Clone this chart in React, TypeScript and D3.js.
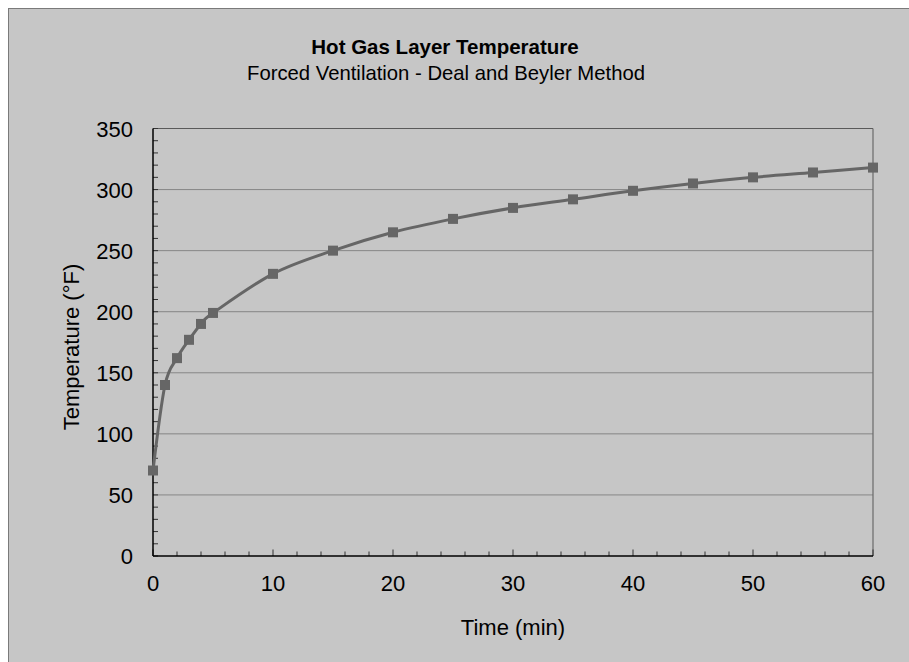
import React from "react";
import * as d3 from "d3";

const timeMin = [0, 1, 2, 3, 4, 5, 10, 15, 20, 25, 30, 35, 40, 45, 50, 55, 60];
const tempF = [70, 140, 162, 177, 190, 199, 231, 250, 265, 276, 285, 292, 299, 305, 310, 314, 318];
const xTicks = [0, 10, 20, 30, 40, 50, 60];
const yTicks = [0, 50, 100, 150, 200, 250, 300, 350];
const xMinor = d3.range(0, 61, 2);
const yMinor = d3.range(0, 351, 10);
const title = "Hot Gas Layer Temperature";
const subtitle = "Forced Ventilation - Deal and Beyler Method";
const xTitle = "Time (min)";
const yTitle = "Temperature (°F)";

export default function App() {
  const W = 909, H = 662;
  const L = 153, R = 873, T = 128.5, B = 556;
  const x = d3.scaleLinear().domain([0, 60]).range([L, R]);
  const y = d3.scaleLinear().domain([0, 350]).range([B, T]);
  const line = d3
    .line<number>()
    .x((_, i) => x(timeMin[i]))
    .y((d) => y(d))
    .curve(d3.curveCardinal.tension(0));
  const font = "'Liberation Sans', Arial, sans-serif";
  const c = "#666666";
  return (
    <svg width={W} height={H} style={{ position: "absolute", left: 0, top: 0 }} fontFamily={font}>
      <rect x={8.5} y={8.5} width={W + 10} height={H + 10} fill="#c6c6c6" stroke="#7a7a7a" strokeWidth={1} />
      <text x={445} y={54} textAnchor="middle" fontSize={20.5} fontWeight="bold" fill="#000">{title}</text>
      <text x={446} y={80} textAnchor="middle" fontSize={20.3} fill="#000">{subtitle}</text>
      {yTicks.filter((t) => t > 0 && t < 350).map((t) => (
        <line key={"g" + t} x1={L} x2={R} y1={y(t)} y2={y(t)} stroke="#868686" strokeWidth={1} />
      ))}
      <line x1={L} x2={R} y1={T} y2={T} stroke="#5a5a5a" strokeWidth={1.2} />
      <line x1={R} x2={R} y1={T} y2={B} stroke="#6a6a6a" strokeWidth={1.2} />
      {yMinor.map((t) => (
        <line key={"ym" + t} x1={L} x2={L + 5} y1={y(t)} y2={y(t)} stroke="#333" strokeWidth={1} />
      ))}
      {xMinor.map((t) => (
        <line key={"xm" + t} x1={x(t)} x2={x(t)} y1={B} y2={B - (t % 10 === 0 ? 6.5 : 4.5)} stroke="#333" strokeWidth={1} />
      ))}
      <line x1={L} x2={L} y1={T} y2={B} stroke="#000" strokeWidth={1.5} />
      <line x1={L} x2={R} y1={B} y2={B} stroke="#000" strokeWidth={1.5} />
      {yTicks.map((t) => (
        <text key={"yl" + t} x={133} y={y(t) + 8} textAnchor="end" fontSize={22} fill="#000">{t}</text>
      ))}
      {xTicks.map((t) => (
        <text key={"xl" + t} x={x(t)} y={591} textAnchor="middle" fontSize={22} fill="#000">{t}</text>
      ))}
      <text x={513} y={635} textAnchor="middle" fontSize={22} fill="#000">{xTitle}</text>
      <text transform={`translate(79,347) rotate(-90)`} textAnchor="middle" fontSize={22} fill="#000">{yTitle}</text>
      <path d={line(tempF) || ""} fill="none" stroke={c} strokeWidth={3} />
      {tempF.map((v, i) => (
        <rect key={"p" + i} x={x(timeMin[i]) - 5} y={y(v) - 5} width={10} height={10} fill={c} />
      ))}
    </svg>
  );
}
